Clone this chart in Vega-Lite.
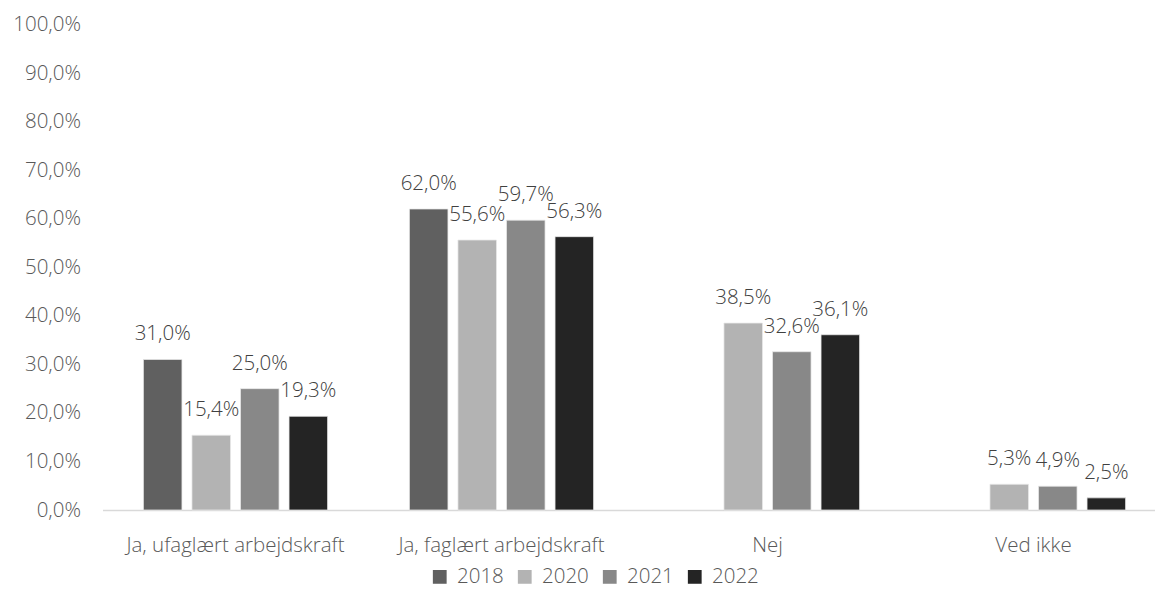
{
  "$schema": "https://vega.github.io/schema/vega-lite/v6.json",
  "width": 1052.5,
  "height": 485.5,
  "autosize": {"type": "none"},
  "padding": {"left": 102.5, "top": 24.5, "right": 0, "bottom": 92},
  "background": "white",
  "config": {
    "locale": {"number": {"decimal": ",", "thousands": ".", "grouping": [3], "currency": ["", " kr."]}},
    "view": {"stroke": null},
    "font": "Open Sans"
  },
  "data": {
    "values": [
      {"kategori": "Ja, ufaglært arbejdskraft", "aar": "2018", "andel": 0.310},
      {"kategori": "Ja, ufaglært arbejdskraft", "aar": "2020", "andel": 0.154},
      {"kategori": "Ja, ufaglært arbejdskraft", "aar": "2021", "andel": 0.250},
      {"kategori": "Ja, ufaglært arbejdskraft", "aar": "2022", "andel": 0.193},
      {"kategori": "Ja, faglært arbejdskraft", "aar": "2018", "andel": 0.620},
      {"kategori": "Ja, faglært arbejdskraft", "aar": "2020", "andel": 0.556},
      {"kategori": "Ja, faglært arbejdskraft", "aar": "2021", "andel": 0.597},
      {"kategori": "Ja, faglært arbejdskraft", "aar": "2022", "andel": 0.563},
      {"kategori": "Nej", "aar": "2020", "andel": 0.385},
      {"kategori": "Nej", "aar": "2021", "andel": 0.326},
      {"kategori": "Nej", "aar": "2022", "andel": 0.361},
      {"kategori": "Ved ikke", "aar": "2020", "andel": 0.053},
      {"kategori": "Ved ikke", "aar": "2021", "andel": 0.049},
      {"kategori": "Ved ikke", "aar": "2022", "andel": 0.025}
    ]
  },
  "encoding": {
    "x": {
      "field": "kategori", "type": "nominal", "sort": null,
      "scale": {"domain": ["Ja, ufaglært arbejdskraft", "Ja, faglært arbejdskraft", "Nej", "Ved ikke"], "range": [0, 1064], "paddingInner": 0.27, "paddingOuter": 0.135},
      "axis": {"title": null, "labelAngle": 0, "labelFontSize": 20.5, "labelFontWeight": 300, "labelColor": "#595959", "labelPadding": 35, "labelBaseline": "middle", "labelLimit": 0, "ticks": false, "domainColor": "#d9d9d9", "domainWidth": 1.5, "grid": false}
    },
    "xOffset": {
      "field": "aar", "type": "nominal",
      "scale": {"domain": ["2018", "2020", "2021", "2022"], "paddingInner": 0.206, "paddingOuter": 0.103}
    },
    "y": {
      "field": "andel", "type": "quantitative",
      "scale": {"domain": [0, 1], "nice": false},
      "axis": {"title": null, "format": ".1%", "values": [0, 0.1, 0.2, 0.3, 0.4, 0.5, 0.6, 0.7, 0.8, 0.9, 1.0], "labelFontSize": 20.5, "labelFontWeight": 300, "labelColor": "#595959", "labelPadding": 22, "ticks": false, "domain": false, "grid": false}
    }
  },
  "layer": [
    {
      "mark": {"type": "bar", "stroke": "#e8e8e8", "strokeWidth": 0.75},
      "encoding": {
        "color": {
          "field": "aar", "type": "nominal",
          "scale": {"domain": ["2018", "2020", "2021", "2022"], "range": ["#606060", "#b3b3b3", "#888888", "#242424"]},
          "legend": {"title": null, "orient": "none", "direction": "horizontal", "legendX": 327, "legendY": 542, "symbolType": "square", "symbolSize": 190, "symbolStrokeWidth": 0, "labelFontSize": 20.5, "labelFontWeight": 300, "labelColor": "#595959", "labelOffset": 7, "columnPadding": 10}
        }
      }
    },
    {
      "mark": {"type": "text", "dy": -25, "baseline": "middle", "align": "center", "fontSize": 20.5, "fontWeight": 300, "color": "#404040"},
      "encoding": {
        "text": {"field": "andel", "type": "quantitative", "format": ".1%"}
      }
    }
  ]
}
